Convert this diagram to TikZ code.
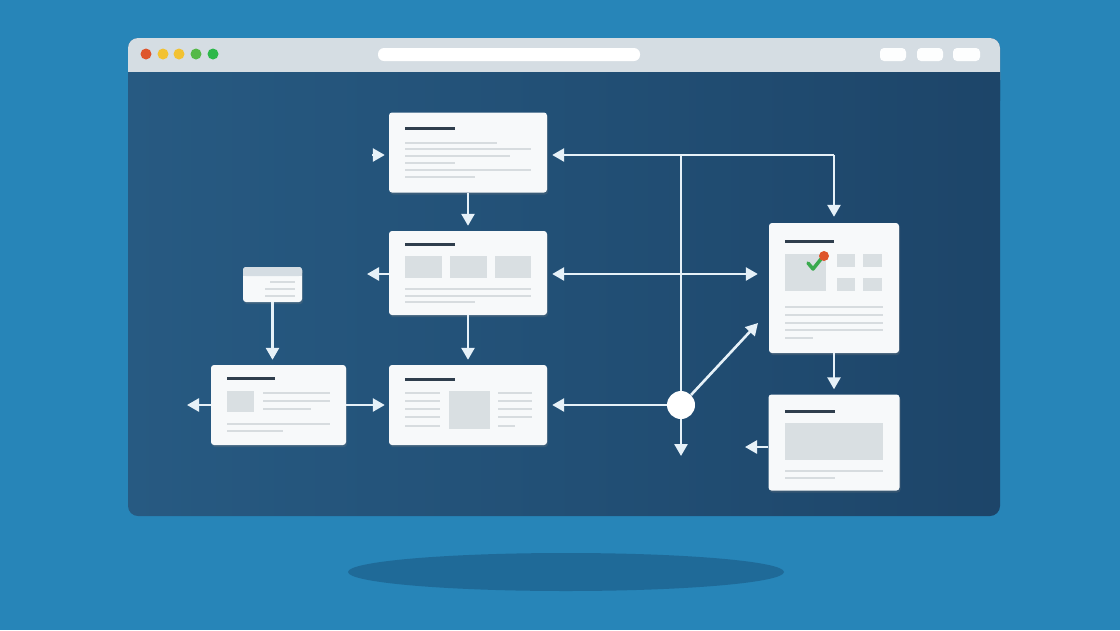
\documentclass[tikz,border=0pt]{standalone}
\usetikzlibrary{arrows.meta,positioning,shadows}

\definecolor{canvasblue}{HTML}{2785B8}
\definecolor{shadowblue}{HTML}{1F6A98}
\definecolor{navy}{HTML}{1D4569}
\definecolor{navylight}{HTML}{275A82}
\definecolor{titlegray}{HTML}{D5DDE3}
\definecolor{cardwhite}{HTML}{F7F9FA}
\definecolor{linkwhite}{HTML}{E6F1F8}
\definecolor{inkgray}{HTML}{2F3E4D}
\definecolor{linegray}{HTML}{D7DCDF}
\definecolor{padgray}{HTML}{D9DFE2}
\definecolor{dotred}{HTML}{DE552C}
\definecolor{dotyellow}{HTML}{F2C232}
\definecolor{dotgreen}{HTML}{55B947}
\definecolor{dotgreendark}{HTML}{2DB84A}
\definecolor{tickgreen}{HTML}{3AAA4E}

\tikzset{
	card/.style={fill=cardwhite, rounded corners=3pt, inner sep=0pt,
		drop shadow={opacity=0.25, shadow xshift=1pt, shadow yshift=-2pt}},
	link/.style={draw=linkwhite, line width=2.6pt, -{Triangle[width=13pt,length=12pt]}},
	wire/.style={draw=linkwhite, line width=2.6pt},
	bar/.style={draw=inkgray, line width=3pt},
	txt/.style={draw=linegray, line width=1.6pt},
	pad/.style={fill=padgray},
}

\begin{document}
\begin{tikzpicture}[x=1pt, y=-1pt]
		\useasboundingbox (0, 0) rectangle (1120, 630);
		\fill[canvasblue] (0, 0) rectangle (1120, 630);
		\fill[shadowblue] (566, 572) ellipse [x radius=218pt, y radius=19pt];
		
		% browser window
		\shade[left color=navylight, right color=navy, rounded corners=10pt] (128, 38) rectangle (1000, 516);
		\fill[titlegray, rounded corners=10pt] (128, 38) rectangle (1000, 90);
		\shade[left color=navylight, right color=navy] (128, 72) rectangle (1000, 100);
		
		\fill[dotred] (146, 54) circle (5.5pt);
		\fill[dotyellow] (163, 54) circle (5.5pt);
		\fill[dotyellow] (179, 54) circle (5.5pt);
		\fill[dotgreen] (196, 54) circle (5.5pt);
		\fill[dotgreendark] (213, 54) circle (5.5pt);
		\fill[white, rounded corners=6pt] (378, 48) rectangle (640, 61);
		\fill[white!96!titlegray, rounded corners=4pt] (880, 48) rectangle (906, 61);
		\fill[white!96!titlegray, rounded corners=4pt] (917, 48) rectangle (943, 61);
		\fill[white!96!titlegray, rounded corners=4pt] (953, 48) rectangle (980, 61);
		
		% cards
		\node[card, minimum width=158pt, minimum height=80pt] (login) at (468, 152.5) {};
		\node[card, minimum width=158pt, minimum height=84pt] (list) at (468, 273) {};
		\node[card, minimum width=59pt, minimum height=35pt] (note) at (272.5, 284.5) {};
		\node[card, minimum width=135pt, minimum height=80pt] (form) at (278.5, 405) {};
		\node[card, minimum width=158pt, minimum height=80pt] (draft) at (468, 405) {};
		\node[card, minimum width=130pt, minimum height=130pt] (check) at (834, 288) {};
		\node[card, minimum width=131pt, minimum height=96pt] (review) at (834, 442.5) {};
		\node[circle, fill=white, minimum size=28pt, inner sep=0pt] (hub) at (681, 405) {};
		
		% login
		\draw[bar] (405, 128) -- (455, 128);
		\draw[txt] (405, 143) -- (497, 143);
		\draw[txt] (405, 149) -- (531, 149);
		\draw[txt] (405, 156) -- (510, 156);
		\draw[txt] (405, 163) -- (455, 163);
		\draw[txt] (405, 170) -- (531, 170);
		\draw[txt] (405, 177) -- (475, 177);
		
		% list
		\draw[bar] (405, 244) -- (455, 244);
		\fill[pad] (405, 256) rectangle (442, 278);
		\fill[pad] (450, 256) rectangle (487, 278);
		\fill[pad] (495, 256) rectangle (531, 278);
		\draw[txt] (405, 289) -- (531, 289);
		\draw[txt] (405, 296) -- (531, 296);
		\draw[txt] (405, 302) -- (475, 302);
		
		% note
		\fill[titlegray, rounded corners=3pt] (243, 267) rectangle (302, 276);
		\fill[titlegray] (243, 272) rectangle (302, 276);
		\draw[txt] (270, 282) -- (295, 282);
		\draw[txt] (265, 289) -- (295, 289);
		\draw[txt] (265, 296) -- (295, 296);
		
		% form
		\draw[bar] (227, 378) -- (275, 378);
		\fill[pad] (227, 391) rectangle (254, 412);
		\draw[txt] (263, 393) -- (330, 393);
		\draw[txt] (263, 401) -- (330, 401);
		\draw[txt] (263, 409) -- (311, 409);
		\draw[txt] (227, 424) -- (330, 424);
		\draw[txt] (227, 431) -- (283, 431);
		
		% draft
		\draw[bar] (405, 379) -- (455, 379);
		\fill[pad] (449, 391) rectangle (490, 429);
		\foreach \y in {393, 401, 409, 417, 426} {
			\draw[txt] (405, \y) -- (440, \y);
		}
		\foreach \y in {393, 401, 409, 417} {
			\draw[txt] (498, \y) -- (532, \y);
		}
		\draw[txt] (498, 426) -- (515, 426);
		
		% check
		\draw[bar] (785, 241) -- (834, 241);
		\fill[pad] (785, 254) rectangle (826, 291);
		\fill[pad] (837, 254) rectangle (855, 267);
		\fill[pad] (863, 254) rectangle (882, 267);
		\fill[pad] (837, 278) rectangle (855, 291);
		\fill[pad] (863, 278) rectangle (882, 291);
		\draw[tickgreen, line width=3.5pt, line cap=round, line join=round] (808, 263) -- (813, 269) -- (821, 259);
		\fill[dotred] (824, 256) circle (5pt);
		\foreach \y in {307, 315, 323, 330} {
			\draw[txt] (785, \y) -- (883, \y);
		}
		\draw[txt] (785, 338) -- (813, 338);
		
		% review
		\draw[bar] (785, 411) -- (835, 411);
		\fill[pad] (785, 423) rectangle (883, 460);
		\draw[txt] (785, 471) -- (883, 471);
		\draw[txt] (785, 478) -- (835, 478);
		
		% connectors
		\coordinate (topright) at (834, 155);
		\coordinate (topmid) at (681, 155);
		\coordinate (listout) at (367, 274);
		\coordinate (formout) at (187, 405);
		\coordinate (hubout) at (681, 456);
		\coordinate (hubup) at (758, 323);
		\coordinate (reviewout) at (745, 447);
		
		\draw[link, shorten >=5pt] (login.south) -- (list.north);
		\draw[link, shorten >=5pt] (list.south) -- (draft.north);
		\draw[link, shorten >=5pt] (note.south) -- (note.south |- form.north);
		\draw[link, shorten >=4pt] (form.east) -- (draft.west);
		\draw[link] (form.west) -- (formout);
		\draw[link] (list.west |- listout) -- (listout);
		\draw[link] ([xshift=-17pt]login.west |- topright) -- ([xshift=-4pt]login.west |- topright);
		
		\draw[wire] (topright) -- (topmid);
		\draw[link, shorten >=5pt] (topmid) -- (login.east |- topright);
		\draw[link, shorten >=6pt] (topright) -- (check.north);
		\draw[wire] (topmid) -- (hub.north);
		\draw[link] (hub.south) -- (hubout);
		\draw[link, shorten >=5pt] (hub.west) -- (hub.west -| draft.east);
		\draw[link] (hub.north east) -- (hubup);
		\draw[link, {Triangle[width=13pt,length=12pt]}-{Triangle[width=13pt,length=12pt]}, shorten <=5pt, shorten >=11pt] (list.east |- listout) -- (check.west |- listout);
		\draw[link, shorten >=5pt] (check.south) -- (review.north);
		\draw[link] (review.west |- reviewout) -- (reviewout);
	\end{tikzpicture}
\end{document}
